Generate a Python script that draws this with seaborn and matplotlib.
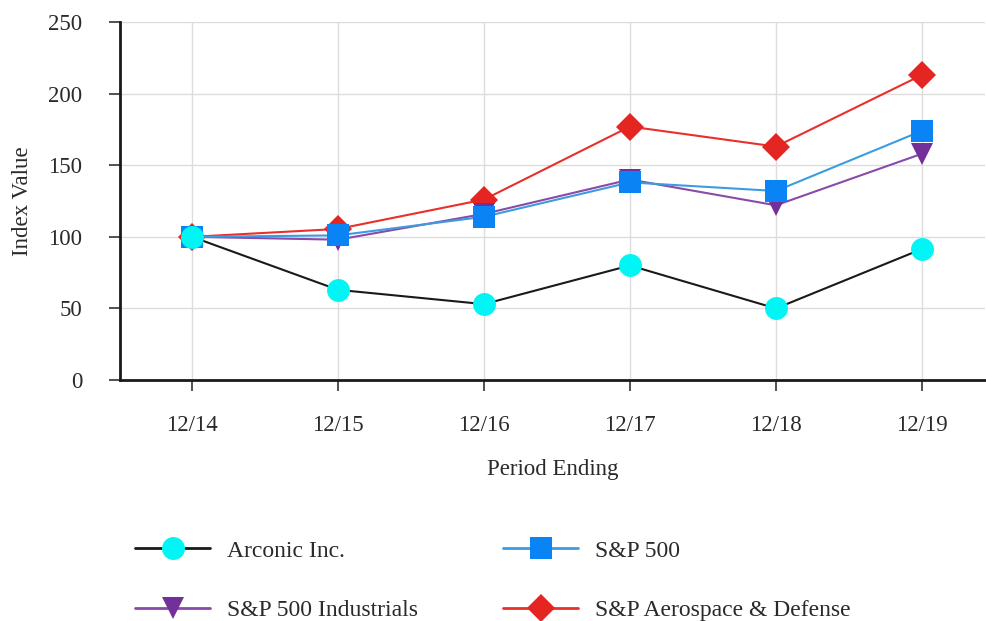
import matplotlib
matplotlib.use("Agg")
import matplotlib.pyplot as plt
import seaborn as sns
import pandas as pd
from matplotlib.lines import Line2D

periods = ["12/14", "12/15", "12/16", "12/17", "12/18", "12/19"]
arconic = [100, 63, 53, 80, 50, 91.5]
sp500 = [100, 101, 114, 138, 132, 174]
industrials = [100, 98, 116, 140, 122, 158]
aerospace = [100, 105.5, 126, 177, 163, 213]

series_names = ["Arconic Inc.", "S&P 500", "S&P 500 Industrials", "S&P Aerospace & Defense"]
series_values = [arconic, sp500, industrials, aerospace]

styles = {
    "Arconic Inc.": dict(line="#1a1a1a", mfc="#00f5f5", marker="o", ms=16.5),
    "S&P 500": dict(line="#3d9be0", mfc="#0a84f5", marker="s", ms=15.5),
    "S&P 500 Industrials": dict(line="#8a4aa8", mfc="#74309a", marker="v", ms=16),
    "S&P Aerospace & Defense": dict(line="#e8302c", mfc="#e52521", marker="D", ms=14),
}

rows = []
for name, vals in zip(series_names, series_values):
    for i, (p, v) in enumerate(zip(periods, vals)):
        rows.append({"series": name, "x": i, "period": p, "value": v})
df = pd.DataFrame(rows)

sns.set_theme(style="white")
plt.rcParams["font.family"] = ["Liberation Serif", "DejaVu Serif"]
text_color = "#2a2a2a"
fs = 16.5
lfs = 17

fig = plt.figure(figsize=(9.86, 6.21), dpi=100)
ax = fig.add_axes([0.1217, 0.388, 0.877, 0.5766])

draw_order = ["S&P Aerospace & Defense", "S&P 500 Industrials", "S&P 500", "Arconic Inc."]
for k, name in enumerate(draw_order):
    st = styles[name]
    sub = df[df["series"] == name]
    sns.lineplot(data=sub, x="x", y="value", ax=ax, color=st["line"], linewidth=1.5,
                 marker=st["marker"], markersize=st["ms"], markerfacecolor=st["mfc"],
                 markeredgecolor=st["mfc"], markeredgewidth=0, zorder=3 + k)

ax.set_xlim(-0.493, 5.43)
ax.set_ylim(0, 250)
ax.set_yticks([0, 50, 100, 150, 200, 250])
ax.set_xticks(range(len(periods)))
ax.set_xticklabels(periods)
ax.grid(True, color="#dcdcdc", linewidth=1.0)
ax.set_axisbelow(True)
for s in ["top", "right"]:
    ax.spines[s].set_visible(False)
for s in ["left", "bottom"]:
    ax.spines[s].set_color("#1a1a1a")
    ax.spines[s].set_linewidth(2.0)
ax.tick_params(axis="both", which="both", direction="out", length=8, width=1.2,
               color="#333333", labelsize=fs, labelcolor=text_color, left=True, bottom=True)
ax.tick_params(axis="x", pad=17.5)
ax.tick_params(axis="y", pad=19)
ax.set_xlabel("Period Ending", fontsize=fs, color=text_color, labelpad=16.5)
ax.set_ylabel("Index Value", fontsize=fs, color=text_color, labelpad=11)

handles = []
for name in series_names:
    st = styles[name]
    handles.append(Line2D([0], [0], color=st["line"], linewidth=2, marker=st["marker"],
                          markersize=st["ms"], markerfacecolor=st["mfc"],
                          markeredgecolor=st["mfc"], markeredgewidth=0))
order = [0, 2, 1, 3]
leg = fig.legend([handles[i] for i in order], [series_names[i] for i in order],
                 ncol=2, loc="upper left", bbox_to_anchor=(0.1274, 0.1456),
                 frameon=False, fontsize=lfs, handlelength=3.18, handletextpad=0.72,
                 columnspacing=3.6, labelspacing=1.6, borderaxespad=0)
for t in leg.get_texts():
    t.set_color(text_color)

fig.savefig("out.png", dpi=100)
